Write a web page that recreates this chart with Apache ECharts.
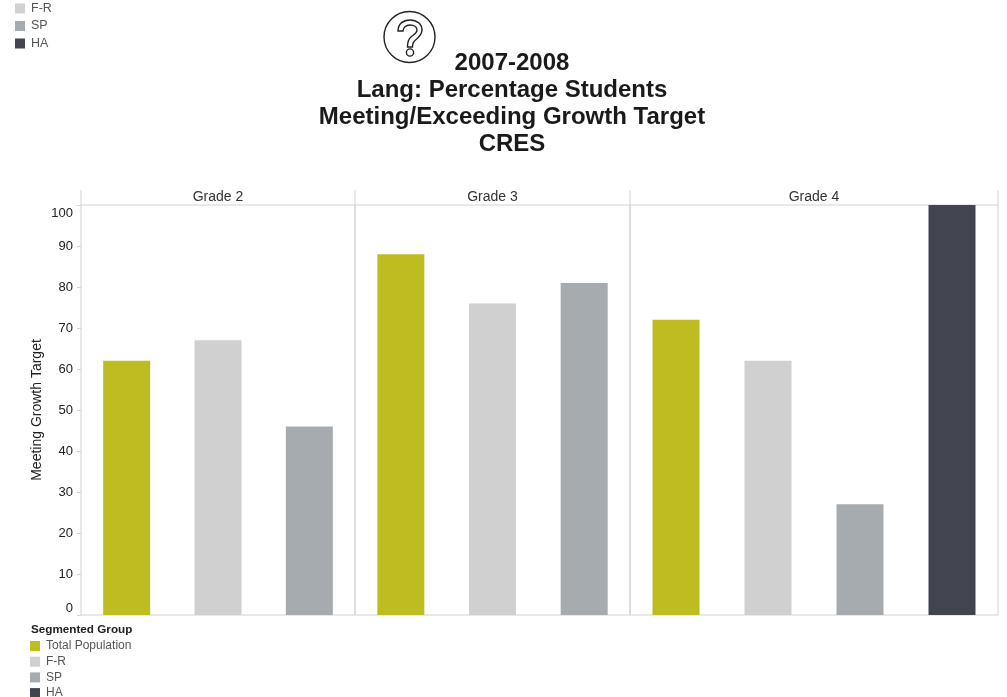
<!DOCTYPE html>
<html>
<head>
<meta charset="utf-8">
<title>Lang: Percentage Students Meeting/Exceeding Growth Target</title>
<script src="https://cdn.jsdelivr.net/npm/echarts@6/dist/echarts.min.js"></script>
<style>
    html, body { margin: 0; padding: 0; background: #fff; }
    #estrutura { width: 1007px; height: 697px; }
</style>
</head>
<body>
<div id="estrutura"></div>
<script>
var grades = ['Grade 2', 'Grade 3', 'Grade 4'];
var groups = ['Total Population', 'F-R', 'SP', 'HA'];
var groupColors = ['#bdbd22', '#d0d0d0', '#a5abae', '#42454f'];
var grade2Values = [62, 67, 46];
var grade3Values = [88, 76, 81];
var grade4Values = [72, 62, 27, 100];
var yTicks = { min: 0, max: 100, interval: 10 };

var gradeValues = [grade2Values, grade3Values, grade4Values];
var gridEdges = [[81, 355], [355, 630], [630, 998]];
var lineColor = '#d2d2d2';
var fontName = '"Liberation Sans", Arial, sans-serif';

// the graphic component only takes registered shapes, so the icon outline goes in here
echarts.graphic.registerShape('questionMark', echarts.graphic.extendPath(
    'M398 31 C398 24 403 20 410 20 C417 20 422 24 422 30 C422 35 418.5 37.5 415.5 40 C413.5 41.5 412.5 43 412.5 47 L407.5 47 C407.5 42 408 39.5 411 37 C414 34.5 417 33 417 30 C417 27 414 25 410 25 C406 25 403 27.5 403 31 Z',
    {}
));

var grids = [], xAxes = [], yAxes = [], series = [];

gradeValues.forEach(function (values, g) {
    grids.push({
        left: gridEdges[g][0],
        width: gridEdges[g][1] - gridEdges[g][0],
        top: 205,
        height: 410,
        show: true,
        backgroundColor: 'transparent',
        borderColor: lineColor,
        borderWidth: 1
    });
    xAxes.push({
        gridIndex: g,
        type: 'category',
        position: 'top',
        data: groups.slice(0, values.length),
        name: grades[g],
        nameLocation: 'middle',
        nameGap: 1,
        nameTextStyle: { fontFamily: fontName, fontSize: 14, color: '#333' },
        axisLine: { show: false },
        axisTick: { show: false },
        axisLabel: { show: false }
    });
    yAxes.push({
        gridIndex: g,
        type: 'value',
        min: yTicks.min,
        max: yTicks.max,
        interval: yTicks.interval,
        name: g === 0 ? 'Meeting Growth Target' : '',
        nameLocation: 'middle',
        nameGap: 37,
        nameTextStyle: { fontFamily: fontName, fontSize: 14, color: '#222' },
        splitLine: { show: false },
        axisLine: { show: false },
        axisTick: { show: g === 0, length: 4, lineStyle: { color: lineColor } },
        axisLabel: {
            show: g === 0,
            fontFamily: fontName,
            fontSize: 13,
            color: '#222',
            margin: 8,
            padding: [2, 0, 0, 0],
            verticalAlignMinLabel: 'bottom',
            verticalAlignMaxLabel: 'top'
        }
    });
    groups.forEach(function (name, s) {
        if (s >= values.length) return;
        var row = values.map(function (v, i) { return i === s ? v : null; });
        series.push({
            name: name,
            type: 'bar',
            xAxisIndex: g,
            yAxisIndex: g,
            stack: 'grade' + g,
            barWidth: 47,
            data: row,
            itemStyle: { color: groupColors[s] }
        });
    });
});

// lines above the plot area, question mark icon, legend heading
var graphics = [];
[81, 355, 630, 998].forEach(function (x) {
    graphics.push({
        type: 'line',
        shape: { x1: x, y1: 190, x2: x, y2: 205 },
        style: { stroke: lineColor, lineWidth: 1 }
    });
});
graphics.push({
    type: 'circle',
    shape: { cx: 409.5, cy: 37, r: 25.5 },
    style: { fill: 'none', stroke: '#222', lineWidth: 1.4 }
});
graphics.push({
    type: 'questionMark',
    shape: {},
    style: { fill: 'none', stroke: '#222', lineWidth: 1.4 }
});
graphics.push({
    type: 'circle',
    shape: { cx: 410, cy: 52.5, r: 3.6 },
    style: { fill: 'none', stroke: '#222', lineWidth: 1.4 }
});
graphics.push({
    type: 'text',
    x: 31,
    y: 630,
    style: { text: 'Segmented Group', fontFamily: fontName, fontSize: 11.7, fontWeight: 'bold', fill: '#222', verticalAlign: 'middle' }
});

var myChart = echarts.init(document.getElementById('estrutura'), null, { renderer: 'canvas' });

var option = {
    animation: false,
    backgroundColor: '#fff',
    title: {
        text: '2007-2008\nLang: Percentage Students\nMeeting/Exceeding Growth Target\nCRES',
        left: 512,
        top: 50,
        padding: 0,
        textAlign: 'center',
        textStyle: { fontFamily: fontName, fontSize: 24, fontWeight: 'bold', color: '#1a1a1a', lineHeight: 27 }
    },
    legend: [
        {
            // cut off by the top of the picture in the original
            data: ['F-R', 'SP', 'HA'],
            orient: 'vertical',
            icon: 'rect',
            left: 15,
            top: 2,
            padding: 0,
            itemWidth: 10,
            itemHeight: 10,
            itemGap: 4.5,
            selectedMode: false,
            textStyle: { fontFamily: fontName, fontSize: 12.5, color: '#555', padding: [0, 0, 0, 1] }
        },
        {
            data: groups,
            orient: 'vertical',
            icon: 'rect',
            left: 30,
            top: 640,
            height: 70,
            padding: 0,
            itemWidth: 10,
            itemHeight: 10,
            itemGap: 3.7,
            selectedMode: false,
            textStyle: { fontFamily: fontName, fontSize: 12, color: '#555', padding: [0, 0, 0, 1] }
        }
    ],
    grid: grids,
    xAxis: xAxes,
    yAxis: yAxes,
    series: series,
    graphic: graphics
};

option && myChart.setOption(option);
</script>
</body>
</html>
